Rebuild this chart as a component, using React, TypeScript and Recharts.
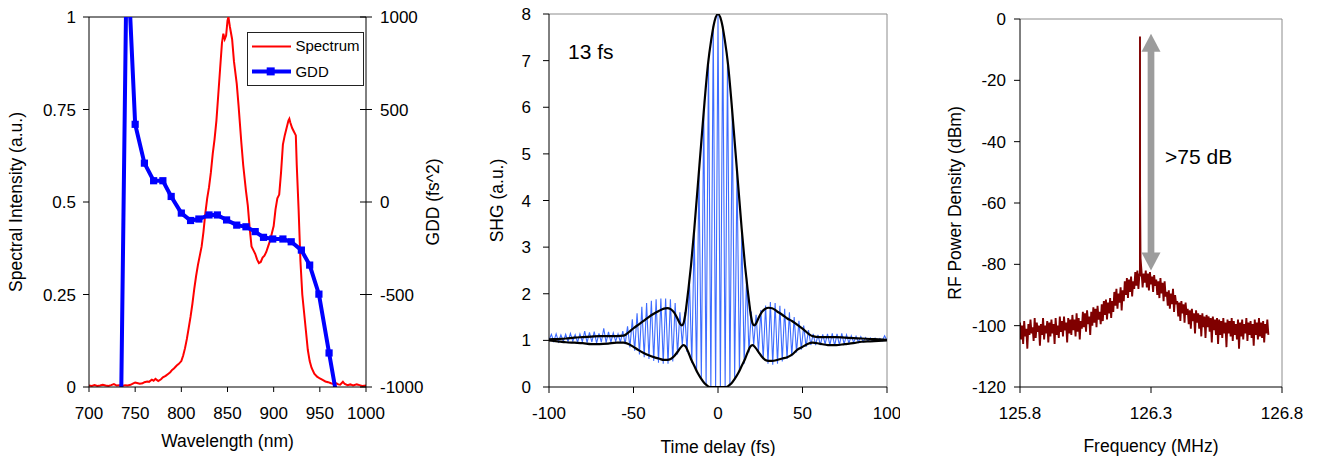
import React from 'react';
import { LineChart, Line, XAxis, YAxis, ReferenceLine, ReferenceDot, Legend } from 'recharts';

const FONT = '"Liberation Sans", Arial, Helvetica, sans-serif';

// ---------- Panel 1: spectrum + GDD ----------
const wavelengthTicks = [700, 750, 800, 850, 900, 950, 1000];
const intensityTicks = [0, 0.25, 0.5, 0.75, 1];
const gddTicks = [-1000, -500, 0, 500, 1000];

const spectrum: [number, number][] = [
  [700, 0.004], [703, 0.003], [706, 0.005], [709, 0.003], [712, 0.004], [715, 0.006], [718, 0.004],
  [721, 0.003], [724, 0.005], [727, 0.008], [730, 0.004], [733, 0.005], [736, 0.003], [739, 0.005],
  [742, 0.004], [745, 0.006], [748, 0.01], [750, 0.012], [752, 0.011], [755, 0.009], [758, 0.01],
  [760, 0.013], [763, 0.015], [765, 0.014], [768, 0.02], [770, 0.017], [772, 0.022], [775, 0.016],
  [778, 0.021], [780, 0.026], [783, 0.03], [786, 0.036], [788, 0.04], [790, 0.046], [792, 0.05],
  [795, 0.058], [797, 0.062], [800, 0.07], [802, 0.085], [804, 0.105], [806, 0.13], [808, 0.16],
  [810, 0.19], [812, 0.225], [814, 0.265], [816, 0.3], [818, 0.33], [820, 0.355], [822, 0.38],
  [824, 0.42], [826, 0.47], [828, 0.51], [830, 0.54], [832, 0.58], [834, 0.63], [836, 0.67],
  [838, 0.72], [840, 0.79], [842, 0.86], [844, 0.93], [845.5, 0.955], [847, 0.94], [848.5, 0.95],
  [850, 0.99], [851, 1.0], [852.5, 0.975], [855, 0.94], [857, 0.88], [860, 0.82], [862, 0.76],
  [865, 0.66], [867, 0.6], [870, 0.53], [872, 0.49], [874, 0.43], [876, 0.38], [878, 0.37],
  [880, 0.36], [882, 0.345], [884, 0.335], [886, 0.338], [888, 0.35], [890, 0.355], [892, 0.365],
  [894, 0.38], [896, 0.395], [898, 0.415], [900, 0.435], [902, 0.48], [904, 0.51], [906, 0.52],
  [908, 0.58], [910, 0.655], [912, 0.68], [914, 0.7], [916, 0.72], [917, 0.725], [918, 0.715],
  [920, 0.7], [922, 0.69], [924, 0.68], [925, 0.6], [927, 0.48], [929, 0.34], [931, 0.25],
  [933, 0.2], [935, 0.15], [937, 0.1], [939, 0.07], [941, 0.052], [944, 0.036], [947, 0.028],
  [950, 0.023], [953, 0.019], [956, 0.015], [959, 0.013], [962, 0.01], [965, 0.008], [968, 0.01],
  [970, 0.007], [972, 0.006], [975, 0.014], [977, 0.008], [980, 0.005], [983, 0.007], [986, 0.004],
  [990, 0.007], [993, 0.005], [996, 0.003], [1000, 0.004],
];

const gdd: [number, number][] = [
  [734, -1400], [741, 1400], [750, 420], [760, 210], [770, 115], [780, 115], [789, 30], [800, -60],
  [810, -100], [819, -92], [830, -70], [839, -70], [849, -97], [860, -125], [870, -134], [880, -160],
  [889, -191], [899, -200], [910, -200], [919, -215], [930, -260], [939, -341], [949, -498],
  [960, -816], [970, -1100],
];

// ---------- Panel 2: interferometric autocorrelation ----------
const delayTicks = [-100, -50, 0, 50, 100];
const shgTicks = [0, 1, 2, 3, 4, 5, 6, 7, 8];
const fringeStart = -100;
const fringeEnd = 100;
const fringeValues = [
  1.0, 1.13, 0.98, 1.14, 0.97, 1.12, 0.98, 1.13, 0.97, 1.15,
  0.98, 1.12, 0.96, 1.14, 0.97, 1.2, 0.95, 1.17, 0.96, 1.19,
  0.94, 1.15, 0.96, 1.26, 0.95, 1.18, 0.96, 1.16, 0.98, 1.14,
  0.96, 1.2, 0.92, 1.3, 0.85, 1.45, 0.78, 1.58, 0.7, 1.72,
  0.64, 1.8, 0.6, 1.85, 0.56, 1.88, 0.52, 1.9, 0.5, 1.9,
  0.5, 1.88, 0.55, 1.8, 0.7, 1.6, 0.9, 1.6, 0.75, 2.3,
  0.52, 3.3, 0.33, 4.65, 0.17, 5.95, 0.06, 7.05, 0.0, 7.75,
  0.0, 8.0, 0.0, 7.75, 0.0, 7.05, 0.05, 5.95, 0.16, 4.65,
  0.32, 3.3, 0.5, 2.35, 0.74, 1.62, 0.9, 1.55, 0.75, 1.65,
  0.6, 1.75, 0.5, 1.82, 0.48, 1.8, 0.5, 1.74, 0.55, 1.68,
  0.6, 1.6, 0.66, 1.5, 0.74, 1.42, 0.8, 1.32, 0.86, 1.22,
  0.9, 1.14, 0.9, 1.12, 0.9, 1.13, 0.92, 1.14, 0.9, 1.15,
  0.88, 1.14, 0.9, 1.15, 0.92, 1.12, 0.94, 1.1, 0.95, 1.09,
  0.96, 1.08, 0.97, 1.06, 0.98, 1.05, 0.98, 1.05, 0.99, 1.04,
  0.99, 1.1, 1.0,
];

const upperEnvelope: [number, number][] = [
  [-100, 1.02], [-95, 1.03], [-90, 1.04], [-85, 1.06], [-80, 1.07], [-75, 1.08], [-70, 1.09],
  [-65, 1.09], [-60, 1.09], [-56, 1.1], [-54, 1.14], [-52, 1.2], [-50, 1.26], [-47, 1.34],
  [-44, 1.42], [-41, 1.5], [-38, 1.57], [-35, 1.63], [-32, 1.68], [-30, 1.69], [-28, 1.67],
  [-26, 1.6], [-24, 1.47], [-22.5, 1.36], [-21.5, 1.32], [-20.5, 1.36], [-19.5, 1.52],
  [-18.5, 1.8], [-17.5, 2.1], [-16, 2.6], [-14, 3.4], [-12, 4.3], [-10, 5.2], [-8, 6.1],
  [-6, 6.9], [-4, 7.45], [-2, 7.85], [0, 8.0], [2, 7.85], [4, 7.45], [6, 6.9], [8, 6.1],
  [10, 5.2], [12, 4.3], [14, 3.4], [16, 2.6], [17.5, 2.1], [18.5, 1.8], [19.5, 1.52],
  [20.5, 1.36], [21.5, 1.32], [22.5, 1.36], [24, 1.48], [26, 1.61], [28, 1.68], [30, 1.7],
  [32, 1.69], [35, 1.62], [38, 1.55], [41, 1.47], [44, 1.41], [47, 1.33], [50, 1.25],
  [52, 1.19], [54, 1.13], [56, 1.09], [60, 1.07], [65, 1.07], [70, 1.07], [75, 1.06],
  [80, 1.05], [85, 1.04], [90, 1.03], [95, 1.02], [100, 1.01],
];

const lowerEnvelope: [number, number][] = [
  [-100, 1.0], [-95, 0.98], [-90, 0.96], [-85, 0.95], [-80, 0.94], [-75, 0.92], [-70, 0.92],
  [-65, 0.93], [-60, 0.95], [-56, 0.95], [-53, 0.92], [-50, 0.86], [-47, 0.79], [-44, 0.73],
  [-41, 0.68], [-38, 0.64], [-35, 0.61], [-32, 0.58], [-30, 0.58], [-28, 0.6], [-26, 0.66],
  [-24, 0.75], [-22, 0.85], [-20.5, 0.9], [-19, 0.86], [-17.5, 0.74], [-16, 0.6], [-14, 0.45],
  [-12, 0.3], [-10, 0.18], [-8, 0.08], [-6, 0.02], [-5, 0], [5, 0], [6, 0.02], [8, 0.08],
  [10, 0.18], [12, 0.3], [14, 0.45], [16, 0.6], [17.5, 0.74], [19, 0.86], [20.5, 0.9],
  [22, 0.85], [24, 0.75], [26, 0.65], [28, 0.58], [30, 0.56], [32, 0.56], [35, 0.58],
  [38, 0.61], [41, 0.64], [44, 0.7], [47, 0.8], [50, 0.86], [53, 0.92], [56, 0.95],
  [60, 0.93], [65, 0.9], [70, 0.9], [75, 0.92], [80, 0.94], [85, 0.97], [90, 0.98],
  [95, 0.99], [100, 1.0],
];

// ---------- Panel 3: RF spectrum ----------
const freqTicks = [125.8, 126.3, 126.8];
const rfTicks = [-120, -100, -80, -60, -40, -20, 0];
const rfStart = 125.8;
const rfStep = 0.004;
const rfNoise = [
  -99.0, -104.5, -100.0, -106.0, -98.5, -103.5, -101.0, -107.5, -99.5, -103.0,
  -98.0, -102.5, -100.5, -105.0, -97.5, -104.0, -99.0, -102.0, -100.0, -106.5,
  -99.5, -103.0, -97.5, -104.5, -100.0, -102.5, -98.5, -105.5, -99.0, -103.5,
  -98.0, -102.5, -99.5, -106.0, -97.5, -103.0, -100.0, -104.0, -97.0, -102.0,
  -98.5, -103.5, -97.0, -101.5, -99.0, -105.5, -97.5, -102.5, -98.0, -103.0,
  -96.5, -101.5, -98.0, -103.5, -96.0, -102.0, -97.5, -104.5, -98.5, -101.0,
  -95.5, -100.5, -96.0, -102.0, -95.0, -99.5, -97.0, -103.0, -95.5, -100.0,
  -94.0, -99.0, -94.5, -100.5, -93.5, -98.0, -95.5, -99.5, -93.0, -98.5,
  -92.0, -96.5, -91.5, -98.0, -92.5, -96.0, -91.0, -97.5, -92.0, -95.5,
  -89.0, -93.5, -88.0, -94.5, -89.5, -92.5, -87.5, -95.0, -88.5, -92.0,
  -85.5, -90.0, -84.5, -91.0, -85.0, -89.0, -84.0, -90.5, -85.5, -88.0,
  -82.5, -87.0, -82.0, -88.0, -83.0, -78.0, -82.5, -87.5, -83.0, -86.0,
  -82.0, -87.5, -83.0, -88.5, -82.5, -86.5, -84.0, -89.0, -83.5, -87.0,
  -85.0, -90.0, -85.5, -91.0, -84.5, -89.5, -86.0, -92.0, -85.5, -90.5,
  -89.0, -93.5, -88.5, -94.5, -89.5, -93.0, -88.0, -95.5, -90.0, -93.0,
  -92.0, -97.0, -92.5, -98.5, -92.0, -96.0, -93.0, -99.0, -92.5, -96.5,
  -94.5, -99.5, -95.0, -101.0, -94.5, -98.5, -96.0, -102.5, -95.0, -99.0,
  -96.0, -101.0, -96.5, -103.5, -96.0, -100.5, -97.0, -104.0, -96.5, -100.5,
  -97.0, -102.0, -97.5, -105.5, -97.0, -101.5, -98.0, -103.0, -97.5, -106.0,
  -98.0, -103.0, -98.5, -104.0, -97.5, -102.5, -99.0, -107.0, -98.0, -102.5,
  -98.5, -103.5, -97.5, -105.0, -98.5, -103.0, -99.5, -104.5, -98.0, -107.5,
  -99.0, -103.5, -98.0, -104.5, -99.5, -102.5, -97.5, -105.0, -99.0, -103.0,
  -98.5, -104.0, -99.5, -106.5, -98.0, -103.0, -99.0, -104.5, -97.5, -103.5,
  -99.0, -104.0, -98.5, -105.5, -99.5, -102.5, -98.0, -103.0,
];
const rfSpike: [number, number][] = [
  [126.2578, -84], [126.258, -5.7], [126.2584, -58], [126.2592, -68],
];

// ---------- derived series ----------
const spectrumData = spectrum.map(([x, y]) => ({ x, y }));
const gddData = gdd.map(([x, y]) => ({ x, y }));
const fringeData = fringeValues.map((v, i) => ({
  x: fringeStart + (i * (fringeEnd - fringeStart)) / (fringeValues.length - 1),
  y: v,
}));
const upperData = upperEnvelope.map(([x, y]) => ({ x, y }));
const lowerData = lowerEnvelope.map(([x, y]) => ({ x, y }));
const rfData = [
  ...rfNoise.map((v, i) => ({ x: +(rfStart + i * rfStep).toFixed(4), y: v })),
  ...rfSpike.map(([x, y]) => ({ x, y })),
].sort((a, b) => a.x - b.x);

const tickStyle = { fill: '#000', fontSize: 17 };
const titleStyle = { fill: '#000', fontSize: 17.5 };

const GddTick = (props: any) => {
  const { x, y, payload } = props;
  const ax = x - 14;
  return (
    <g>
      <line x1={ax - 6} x2={ax + 6} y1={y} y2={y} stroke="#000" />
      <text x={x} y={y} dy="0.355em" textAnchor="start" fill="#000" fontSize={17}>
        {payload.value}
      </text>
    </g>
  );
};

const SquareDot = (props: any) => {
  const { cx, cy, index } = props;
  if (cx == null || cy == null) return <g key={index} />;
  return <rect key={index} x={cx - 3.6} y={cy - 3.6} width={7.2} height={7.2} fill="#0000ff" />;
};

const LegendBox = () => (
  <svg width={117} height={54} style={{ display: 'block' }}>
    <rect x={0.5} y={0.5} width={116} height={53} fill="#fff" stroke="#222" />
    <line x1={5} x2={44} y1={14.4} y2={14.4} stroke="#ff0000" strokeWidth={2} />
    <text x={48.4} y={19.2} fontSize={15} fill="#000">Spectrum</text>
    <line x1={5} x2={44} y1={39.4} y2={39.4} stroke="#0000ff" strokeWidth={4} />
    <rect x={19.7} y={35.4} width={8} height={8} fill="#0000ff" />
    <text x={48.4} y={45} fontSize={15} fill="#000">GDD</text>
  </svg>
);

const ArrowUp = (props: any) => {
  const { cx, cy } = props;
  return <polygon points={`${cx},${cy} ${cx + 9.5},${cy + 18} ${cx - 9.5},${cy + 18}`} fill="#9c9c9c" />;
};
const ArrowDown = (props: any) => {
  const { cx, cy } = props;
  return <polygon points={`${cx},${cy} ${cx + 9.5},${cy - 18} ${cx - 9.5},${cy - 18}`} fill="#9c9c9c" />;
};

export default function App() {
  return (
    <div style={{ position: 'absolute', left: 0, top: 0, width: 1317, height: 456, fontFamily: FONT, background: '#fff' }}>
      {/* Panel 1 */}
      <div style={{ position: 'absolute', left: 0, top: 0 }}>
        <LineChart width={450} height={456} margin={{ top: 17, right: 0, bottom: 0, left: 0 }}>
          <XAxis
            type="number"
            dataKey="x"
            domain={[700, 1000]}
            ticks={wavelengthTicks}
            allowDataOverflow
            height={69}
            tickSize={5}
            tickMargin={15}
            stroke="#000"
            tick={tickStyle}
            label={{ value: 'Wavelength (nm)', position: 'insideBottom', offset: 9, ...titleStyle }}
          />
          <YAxis
            yAxisId="left"
            type="number"
            domain={[0, 1]}
            ticks={intensityTicks}
            allowDataOverflow
            width={89}
            tickSize={6}
            tickMargin={7}
            stroke="#000"
            tick={tickStyle}
            label={{ value: 'Spectral Intensity (a.u.)', angle: -90, position: 'insideLeft', offset: 15.8, style: { textAnchor: 'middle' }, ...titleStyle }}
          />
          <YAxis
            yAxisId="right"
            orientation="right"
            type="number"
            domain={[-1000, 1000]}
            ticks={gddTicks}
            allowDataOverflow
            width={84}
            tickSize={6}
            tickMargin={8}
            tickLine={false}
            stroke="#000"
            tick={<GddTick />}
            label={{ value: 'GDD (fs^2)', angle: -90, position: 'insideRight', offset: 17, style: { textAnchor: 'middle' }, ...titleStyle }}
          />
          <ReferenceLine yAxisId="left" y={1} stroke="#000" />
          <Line yAxisId="left" data={spectrumData} dataKey="y" type="linear" stroke="#ff0000" strokeWidth={2} dot={false} isAnimationActive={false} />
          <Line yAxisId="right" data={gddData} dataKey="y" type="linear" stroke="#0000ff" strokeWidth={4} dot={SquareDot} isAnimationActive={false} />
          <Legend
            verticalAlign="middle"
            align="center"
            layout="horizontal"
            wrapperStyle={{ left: 247, top: 32, width: 117, height: 54 }}
            content={() => <LegendBox />}
          />
        </LineChart>
      </div>

      {/* Panel 2 */}
      <div style={{ position: 'absolute', left: 460, top: 0 }}>
        <LineChart width={440} height={456} margin={{ top: 14, right: 13, bottom: 0, left: 0 }}>
          <XAxis
            type="number"
            dataKey="x"
            domain={[-100, 100]}
            ticks={delayTicks}
            allowDataOverflow
            height={69}
            tickSize={6}
            tickMargin={14}
            stroke="#000"
            tick={tickStyle}
            label={{ value: 'Time delay (fs)', position: 'insideBottom', offset: 3, ...titleStyle }}
          />
          <YAxis
            type="number"
            domain={[0, 8]}
            ticks={shgTicks}
            allowDataOverflow
            width={89}
            tickSize={6}
            tickMargin={12}
            stroke="#000"
            tick={tickStyle}
            label={{ value: 'SHG (a.u.)', angle: -90, position: 'insideLeft', offset: 36.3, style: { textAnchor: 'middle' }, ...titleStyle }}
          />
          <ReferenceLine y={8} stroke="#8c8c8c" />
          <ReferenceLine x={100} stroke="#8c8c8c" />
          <Line data={fringeData} dataKey="y" type="linear" stroke="#3d6cff" strokeWidth={1.1} dot={false} isAnimationActive={false} />
          <Line data={upperData} dataKey="y" type="monotone" stroke="#000" strokeWidth={2.2} dot={false} isAnimationActive={false} />
          <Line data={lowerData} dataKey="y" type="monotone" stroke="#000" strokeWidth={2.2} dot={false} isAnimationActive={false} />
        </LineChart>
      </div>

      {/* Panel 3 */}
      <div style={{ position: 'absolute', left: 920, top: 0 }}>
        <LineChart width={397} height={456} margin={{ top: 19, right: 35, bottom: 0, left: 0 }}>
          <XAxis
            type="number"
            dataKey="x"
            domain={[125.8, 126.8]}
            ticks={freqTicks}
            allowDataOverflow
            height={69}
            tickSize={6}
            tickMargin={14}
            stroke="#000"
            tick={tickStyle}
            tickFormatter={(v: number) => v.toFixed(1)}
            label={{ value: 'Frequency (MHz)', position: 'insideBottom', offset: 4.5, ...titleStyle }}
          />
          <YAxis
            type="number"
            domain={[-120, 0]}
            ticks={rfTicks}
            allowDataOverflow
            width={100}
            tickSize={6}
            tickMargin={8}
            stroke="#000"
            tick={tickStyle}
            label={{ value: 'RF Power Density (dBm)', angle: -90, position: 'insideLeft', offset: 34.6, style: { textAnchor: 'middle' }, ...titleStyle }}
          />
          <ReferenceLine y={0} stroke="#8c8c8c" />
          <ReferenceLine x={126.8} stroke="#8c8c8c" />
          <Line data={rfData} dataKey="y" type="linear" stroke="#800000" strokeWidth={1.9} dot={false} isAnimationActive={false} />
          <ReferenceLine segment={[{ x: 126.3, y: -10 }, { x: 126.3, y: -77 }]} stroke="#9c9c9c" strokeWidth={6.7} />
          <ReferenceDot x={126.3} y={-4.8} r={1} shape={ArrowUp} />
          <ReferenceDot x={126.3} y={-82} r={1} shape={ArrowDown} />
        </LineChart>
      </div>

      <svg width={1317} height={456} style={{ position: 'absolute', left: 0, top: 0, pointerEvents: 'none' }}>
        <text x={568} y={58.5} fontSize={21} fill="#000" fontFamily={FONT}>13 fs</text>
        <text x={1165} y={164} fontSize={21} fill="#000" fontFamily={FONT}>&gt;75 dB</text>
      </svg>
    </div>
  );
}
